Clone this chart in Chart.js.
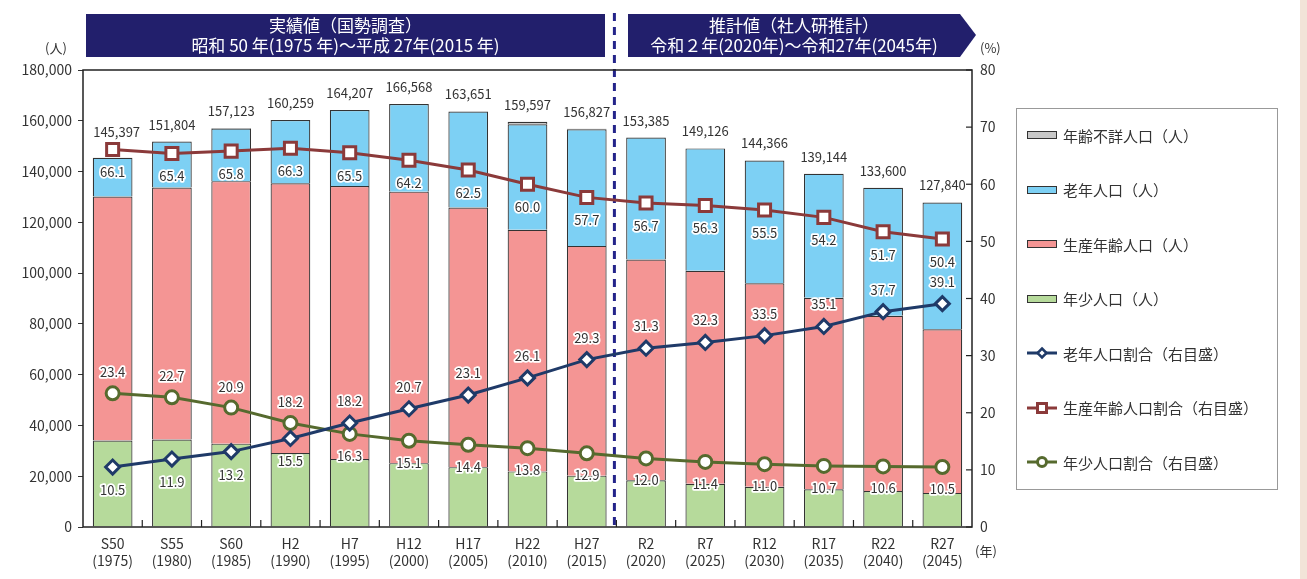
<!DOCTYPE html>
<html lang="ja">
<head>
<meta charset="utf-8">
<script src="https://cdn.jsdelivr.net/npm/chart.js@4"></script>
<style>
  html, body { margin: 0; padding: 0; background: #fff; overflow: hidden; }
  body { width: 1307px; height: 579px; position: relative; font-family: "Noto Sans CJK JP", "Noto Sans", sans-serif; color: #333; }
  #wrap { position: absolute; left: 0; top: 0; width: 1307px; height: 579px; }
  .banner { position: absolute; background: #221f6c; color: #fff; font-size: 17px; line-height: 20px; text-align: center; box-sizing: border-box; padding-top: 1px; }
  #b1 { left: 86px; top: 14px; width: 519px; height: 43px; }
  #b2 { left: 628px; top: 14px; width: 348px; height: 43px; clip-path: polygon(0 0, 332px 0, 348px 21px, 332px 43px, 0 43px); padding-right: 16px; }
  .unit { position: absolute; font-size: 13px; color: #333; }
  #legend { position: absolute; left: 1016px; top: 108px; width: 262px; height: 382px; border: 1px solid #999; box-sizing: border-box; }
  .li { position: absolute; left: 10px; height: 20px; display: flex; align-items: center; font-size: 15px; color: #333; white-space: nowrap; }
  .sw { width: 30px; height: 8px; border: 1.5px solid #333; box-sizing: border-box; margin-right: 6px; }
  .li svg { margin-right: 6px; }
  #strip { position: absolute; left: 1300px; top: 0; width: 7px; height: 579px; background: #f2e4d8; }
</style>
</head>
<body>
<div id="wrap"><canvas id="c" width="1307" height="579"></canvas></div>
<div class="banner" id="b1">実績値（国勢調査）<br>昭和 50 年(1975 年)～平成 27年(2015 年)</div>
<div class="banner" id="b2">推計値（社人研推計）<br>令和２年(2020年)～令和27年(2045年)</div>
<div class="unit" style="left:45px;top:38px;">(人)</div>
<div class="unit" style="left:980px;top:38px;">(%)</div>
<div class="unit" style="left:975px;top:541px;">(年)</div>
<div id="legend"></div>
<div id="strip"></div>
<script>
const categories = [["S50","(1975)"],["S55","(1980)"],["S60","(1985)"],["H2","(1990)"],["H7","(1995)"],["H12","(2000)"],["H17","(2005)"],["H22","(2010)"],["H27","(2015)"],["R2","(2020)"],["R7","(2025)"],["R12","(2030)"],["R17","(2035)"],["R22","(2040)"],["R27","(2045)"]];
const totals     = [145397,151804,157123,160259,164207,166568,163651,159597,156827,153385,149126,144366,139144,133600,127840];
const youngPop   = [34023,34460,32839,29167,26766,25152,23566,21900,20231,18406,17000,15880,14888,14162,13423];
const prodPop    = [96107,99279,103387,106252,107556,106937,102282,95200,90489,86969,83958,80123,75416,69071,64431];
const elderPop   = [15267,18065,20740,24840,29885,34479,37803,41500,45950,48010,48168,48363,48840,50367,49986];
const unknownPop = [0,0,157,0,0,0,0,997,157,0,0,0,0,0,0];
const elderRatio = [10.5,11.9,13.2,15.5,18.2,20.7,23.1,26.1,29.3,31.3,32.3,33.5,35.1,37.7,39.1];
const prodRatio  = [66.1,65.4,65.8,66.3,65.5,64.2,62.5,60.0,57.7,56.7,56.3,55.5,54.2,51.7,50.4];
const youngRatio = [23.4,22.7,20.9,18.2,16.3,15.1,14.4,13.8,12.9,12.0,11.4,11.0,10.7,10.6,10.5];
const leftTicks  = [0,20000,40000,60000,80000,100000,120000,140000,160000,180000];
const rightTicks = [0,10,20,30,40,50,60,70,80];

const FONT = '"Noto Sans CJK JP", "Noto Sans", sans-serif';
const C = { gray:'#c8c8c8', blue:'#7dd0f4', pink:'#f49594', green:'#b6da9b', navy:'#1f3a68', red:'#8b3a3a', olive:'#566a2e', edge:'#333333' };

const barCommon = { type:'bar', yAxisID:'y', stack:'pop', borderColor:C.edge, borderWidth:1.2, barPercentage:0.67, categoryPercentage:1, order:2 };
const lineCommon = { type:'line', yAxisID:'y1', borderWidth:3, pointBackgroundColor:'#fff', pointBorderWidth:3, order:1, fill:false, tension:0 };

const datasets = [
  Object.assign({ label:'年少人口（人）', data:youngPop, backgroundColor:C.green }, barCommon),
  Object.assign({ label:'生産年齢人口（人）', data:prodPop, backgroundColor:C.pink }, barCommon),
  Object.assign({ label:'老年人口（人）', data:elderPop, backgroundColor:C.blue }, barCommon),
  Object.assign({ label:'年齢不詳人口（人）', data:unknownPop, backgroundColor:C.gray }, barCommon),
  Object.assign({ label:'老年人口割合（右目盛）', data:elderRatio, borderColor:C.navy, pointBorderColor:C.navy, pointStyle:'rectRot', pointRadius:7 }, lineCommon),
  Object.assign({ label:'生産年齢人口割合（右目盛）', data:prodRatio, borderColor:C.red, pointBorderColor:C.red, pointStyle:'rect', pointRadius:8.5 }, lineCommon),
  Object.assign({ label:'年少人口割合（右目盛）', data:youngRatio, borderColor:C.olive, pointBorderColor:C.olive, pointStyle:'circle', pointRadius:6.5 }, lineCommon)
];

function haloText(ctx, txt, x, y) {
  ctx.lineJoin = 'round';
  ctx.lineWidth = 3.5;
  ctx.strokeStyle = '#fff';
  ctx.strokeText(txt, x, y);
  ctx.fillStyle = '#333';
  ctx.fillText(txt, x, y);
}

const decor = {
  id:'decor',
  beforeDatasetsDraw(chart) {
    const { ctx, chartArea:a, scales } = chart;
    ctx.save();
    const xm = (scales.x.getPixelForValue(8) + scales.x.getPixelForValue(9)) / 2 - 2;
    ctx.strokeStyle = '#24248a';
    ctx.lineWidth = 3;
    ctx.setLineDash([8,6]);
    ctx.beginPath(); ctx.moveTo(xm, 13); ctx.lineTo(xm, a.bottom); ctx.stroke();
    ctx.restore();
  },
  afterDatasetsDraw(chart) {
    const { ctx, chartArea:a, scales } = chart;
    const x = scales.x, y = scales.y, y1 = scales.y1;
    ctx.save();
    ctx.strokeStyle = '#222';
    ctx.lineWidth = 1.5;
    ctx.strokeRect(a.left, a.top, a.right - a.left, a.bottom - a.top);
    ctx.lineWidth = 1.2;
    for (let i = 0; i < categories.length - 1; i++) {
      const px = (x.getPixelForValue(i) + x.getPixelForValue(i+1)) / 2;
      ctx.beginPath(); ctx.moveTo(px, a.bottom); ctx.lineTo(px, a.bottom - 7); ctx.stroke();
    }
    rightTicks.forEach(v => {
      const py = y1.getPixelForValue(v);
      ctx.beginPath(); ctx.moveTo(a.right, py); ctx.lineTo(a.right - 6, py); ctx.stroke();
    });
    ctx.font = '13px ' + FONT;
    ctx.textAlign = 'center';
    ctx.textBaseline = 'middle';
    ctx.fillStyle = '#333';
    totals.forEach((t, i) => {
      const px = x.getPixelForValue(i);
      let py = y.getPixelForValue(t) - 17;
      const my = y1.getPixelForValue(prodRatio[i]);
      if (Math.abs(py - my) < 16) py = my - 17;
      ctx.fillText(t.toLocaleString('en-US'), px + (i === 0 ? 4 : 0), py);
    });
    ctx.font = '13px ' + FONT;
    prodRatio.forEach((v, i) => {
      haloText(ctx, v.toFixed(1), x.getPixelForValue(i), y1.getPixelForValue(v) + 23);
    });
    elderRatio.forEach((v, i) => {
      const off = i >= 4 ? -22 : 23;
      haloText(ctx, v.toFixed(1), x.getPixelForValue(i), y1.getPixelForValue(v) + off);
    });
    youngRatio.forEach((v, i) => {
      const off = i <= 3 ? -21 : 22;
      haloText(ctx, v.toFixed(1), x.getPixelForValue(i), y1.getPixelForValue(v) + off);
    });
    ctx.restore();
  }
};

const chart = new Chart(document.getElementById('c'), {
  data: { labels: categories, datasets },
  options: {
    responsive: false,
    animation: false,
    layout: { padding: { left: 0, top: 70, right: 295, bottom: 0 } },
    plugins: { legend: { display: false }, tooltip: { enabled: false } },
    scales: {
      x: {
        stacked: true,
        grid: { display: false },
        border: { display: false },
        ticks: { color:'#333', font:{ family:FONT, size:14, lineHeight:1.2 }, padding:0, maxRotation:0, autoSkip:false },
        afterFit(s) { s.height = 52; }
      },
      y: {
        stacked: true, min: 0, max: 180000,
        grid: { drawOnChartArea:false, drawTicks:true, tickLength:5, color:'#333', tickColor:'#333' },
        border: { display: false },
        afterBuildTicks(s) { s.ticks = leftTicks.map(v => ({ value: v })); },
        ticks: { color:'#333', font:{ family:FONT, size:14 }, padding:6, callback: v => v.toLocaleString('en-US') },
        afterFit(s) { s.width = 83; }
      },
      y1: {
        position: 'right', min: 0, max: 80,
        grid: { drawOnChartArea:false, drawTicks:false },
        border: { display: false },
        afterBuildTicks(s) { s.ticks = rightTicks.map(v => ({ value: v })); },
        ticks: { color:'#333', font:{ family:FONT, size:14 }, padding:8 },
        afterFit(s) { s.width = 40; }
      }
    }
  },
  plugins: [decor]
});

const legendOrder = [3, 2, 1, 0, 4, 5, 6];
const lg = document.getElementById('legend');
legendOrder.forEach((di, k) => {
  const ds = datasets[di];
  const row = document.createElement('div');
  row.className = 'li';
  row.style.top = (16 + k * 54.5) + 'px';
  if (ds.type === 'bar') {
    const sw = document.createElement('div');
    sw.className = 'sw';
    sw.style.background = ds.backgroundColor;
    row.appendChild(sw);
  } else {
    const col = ds.borderColor;
    let mk = '';
    if (ds.pointStyle === 'rectRot') mk = `<polygon points="15,5.5 19.5,10 15,14.5 10.5,10" fill="#fff" stroke="${col}" stroke-width="2.5"/>`;
    else if (ds.pointStyle === 'rect') mk = `<rect x="10.5" y="5.5" width="9" height="9" fill="#fff" stroke="${col}" stroke-width="3"/>`;
    else mk = `<circle cx="15" cy="10" r="4.5" fill="#fff" stroke="${col}" stroke-width="3"/>`;
    row.insertAdjacentHTML('beforeend', `<svg width="30" height="20"><line x1="0" y1="10" x2="30" y2="10" stroke="${col}" stroke-width="3"/>${mk}</svg>`);
  }
  const sp = document.createElement('span');
  sp.textContent = ds.label;
  row.appendChild(sp);
  lg.appendChild(row);
});
</script>
</body>
</html>
